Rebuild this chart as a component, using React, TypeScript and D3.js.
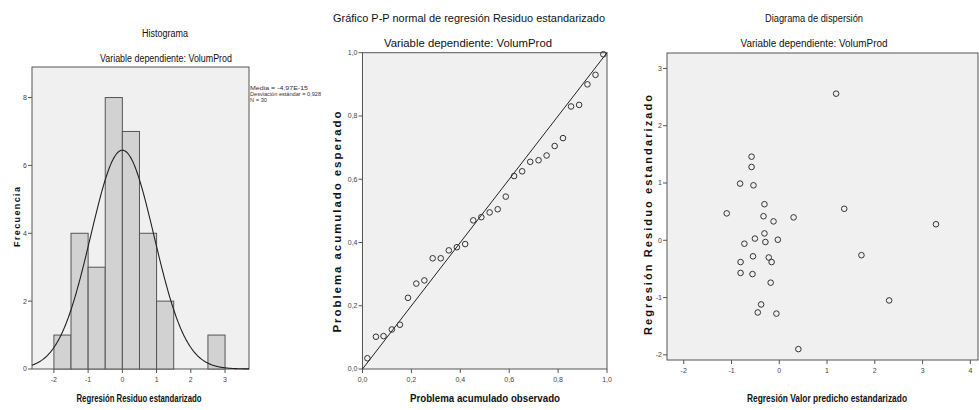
import React from "react";
import * as d3 from "d3";

// ---------- Data ----------
const histBinStarts = [-2, -1.5, -1, -0.5, 0, 0.5, 1, 1.5, 2, 2.5];
const histCounts = [1, 4, 3, 8, 7, 4, 2, 0, 0, 1];
const histBinWidth = 0.5;
const histMean = -4.97e-15;
const histSd = 0.928;
const histN = 30;
const histXTicks = [-2, -1, 0, 1, 2, 3];
const histYTicks = [0, 2, 4, 6, 8];
const histStats = ["Media = -4,97E-15", "Desviación estándar = 0,928", "N = 30"];

const ppObserved = [0.02, 0.055, 0.086, 0.12, 0.153, 0.186, 0.22, 0.253, 0.287, 0.32, 0.353, 0.386, 0.42, 0.453, 0.486, 0.52, 0.553, 0.586, 0.62, 0.653, 0.686, 0.72, 0.753, 0.786, 0.82, 0.853, 0.886, 0.92, 0.953, 0.985];
const ppExpected = [0.034, 0.102, 0.104, 0.125, 0.14, 0.225, 0.27, 0.28, 0.35, 0.35, 0.375, 0.385, 0.395, 0.47, 0.48, 0.495, 0.505, 0.545, 0.61, 0.625, 0.655, 0.66, 0.675, 0.705, 0.73, 0.83, 0.835, 0.9, 0.93, 0.995];
const ppTicks = [0, 0.2, 0.4, 0.6, 0.8, 1.0];

const scPredicted = [1.19, -0.58, -0.58, -0.82, -0.54, -0.31, -1.1, -0.33, -0.12, 0.3, 1.36, 3.28, -0.31, -0.51, -0.29, -0.03, -0.73, -0.55, -0.22, -0.16, -0.81, -0.81, -0.56, 1.72, -0.18, -0.38, -0.45, -0.06, 2.3, 0.4];
const scResidual = [2.56, 1.46, 1.28, 0.99, 0.96, 0.63, 0.47, 0.42, 0.33, 0.4, 0.55, 0.28, 0.12, 0.03, -0.03, 0.01, -0.06, -0.28, -0.3, -0.38, -0.38, -0.57, -0.59, -0.26, -0.74, -1.12, -1.26, -1.28, -1.05, -1.9];
const scXTicks = [-2, -1, 0, 1, 2, 3, 4];
const scYTicks = [-2, -1, 0, 1, 2, 3];

const subtitle = "Variable dependiente: VolumProd";

// ---------- Styles ----------
const SANS = "'Liberation Sans', Arial, sans-serif";
const PLOT_BG = "#f0f0f0";
const FRAME = "#555";
const TICK_COLOR = "#444";

const fmtComma = (v: number) => d3.format(".1f")(v).replace(".", ",");

function Label(props: {
  x: number; y: number; w: number; size: number; text: string; bold?: boolean; rotate?: boolean; anchor?: string; fill?: string; adjust?: string;
}) {
  const { x, y, w, size, text, bold, rotate, anchor = "middle", fill = "#111", adjust = "spacingAndGlyphs" } = props;
  return (
    <text
      transform={rotate ? `translate(${x},${y}) rotate(-90)` : undefined}
      x={rotate ? 0 : x}
      y={rotate ? 0 : y}
      textAnchor={anchor}
      fontSize={size}
      fontWeight={bold ? "bold" : "normal"}
      fontFamily={SANS}
      fill={fill}
      textLength={w}
      lengthAdjust={adjust}
    >
      {text}
    </text>
  );
}

function Frame({ x0, x1, y0, y1 }: { x0: number; x1: number; y0: number; y1: number }) {
  return <rect x={x0} y={y0} width={x1 - x0} height={y1 - y0} fill={PLOT_BG} stroke={FRAME} strokeWidth={1} />;
}

function YTicks({ scale, ticks, x, fmt }: { scale: any; ticks: number[]; x: number; fmt: (v: number) => string }) {
  return (
    <g>
      {ticks.map((t) => (
        <g key={t}>
          <line x1={x - 4} x2={x} y1={scale(t)} y2={scale(t)} stroke={FRAME} />
          <text x={x - 5} y={scale(t)} dy="0.35em" textAnchor="end" fontSize={7} fontFamily={SANS} fill={TICK_COLOR}>
            {fmt(t)}
          </text>
        </g>
      ))}
    </g>
  );
}

function XTicks({ scale, ticks, y, fmt }: { scale: any; ticks: number[]; y: number; fmt: (v: number) => string }) {
  return (
    <g>
      {ticks.map((t) => (
        <g key={t}>
          <line x1={scale(t)} x2={scale(t)} y1={y} y2={y + 4} stroke={FRAME} />
          <text x={scale(t)} y={y + 13} textAnchor="middle" fontSize={7} fontFamily={SANS} fill={TICK_COLOR}>
            {fmt(t)}
          </text>
        </g>
      ))}
    </g>
  );
}

export default function App() {
  // Histogram
  const hx = d3.scaleLinear().domain([-2.64, 3.7]).range([32, 249]);
  const hy = d3.scaleLinear().domain([0, 8.9]).range([369, 67]);
  const curveXs = d3.range(hx.domain()[0], hx.domain()[1] + 0.001, 0.02);
  const normal = (x: number) =>
    (histN * histBinWidth) / (histSd * Math.sqrt(2 * Math.PI)) * Math.exp(-0.5 * ((x - histMean) / histSd) ** 2);
  const curvePath = d3
    .line<number>()
    .x((d) => hx(d))
    .y((d) => hy(normal(d)))(curveXs) as string;

  // P-P
  const px = d3.scaleLinear().domain([0, 1]).range([362.5, 607]);
  const py = d3.scaleLinear().domain([0, 1]).range([369, 52.7]);

  // Scatter
  const sx = d3.scaleLinear().domain([-2.35, 4.16]).range([667, 978]);
  const sy = d3.scaleLinear().domain([-2.09, 3.27]).range([360, 53]);

  const intFmt = (v: number) => String(v);

  return (
    <svg width={979} height={410} style={{ position: "absolute", left: 0, top: 0, background: "#fff" }}>
      {/* ---------- Histogram ---------- */}
      <Label x={165} y={37} w={46} size={10} text="Histograma" />
      <Label x={166} y={62} w={132} size={10} text={subtitle} />
      <Frame x0={hx.range()[0]} x1={hx.range()[1]} y0={hy.range()[1]} y1={hy.range()[0]} />
      {histBinStarts.map((b, i) =>
        histCounts[i] > 0 ? (
          <rect
            key={b}
            x={hx(b)}
            y={hy(histCounts[i])}
            width={hx(b + histBinWidth) - hx(b)}
            height={hy(0) - hy(histCounts[i])}
            fill="#d2d2d2"
            stroke={FRAME}
            strokeWidth={1}
          />
        ) : null
      )}
      <path d={curvePath} fill="none" stroke="#222" strokeWidth={1.1} />
      <YTicks scale={hy} ticks={histYTicks} x={hx.range()[0]} fmt={intFmt} />
      <XTicks scale={hx} ticks={histXTicks} y={hy.range()[0]} fmt={intFmt} />
      {histStats.map((s, i) => (
        <Label key={s} x={250} y={90 + i * 6} w={[58, 71, 17][i]} size={6} text={s} anchor="start" fill="#333" />
      ))}
      <Label x={20} y={217} w={60} size={9} text="Frecuencia" bold rotate adjust="spacing" />
      <Label x={139} y={402} w={125} size={10} text="Regresión Residuo estandarizado" bold />

      {/* ---------- P-P plot ---------- */}
      <Label x={469} y={22} w={272} size={11.5} text="Gráfico P-P normal de regresión Residuo estandarizado" />
      <Label x={468} y={47} w={168} size={11.5} text={subtitle} />
      <Frame x0={px.range()[0]} x1={px.range()[1]} y0={py.range()[1]} y1={py.range()[0]} />
      <line x1={px(0)} y1={py(0)} x2={px(1)} y2={py(1)} stroke="#222" strokeWidth={1} />
      {ppObserved.map((o, i) => (
        <circle key={i} cx={px(o)} cy={py(ppExpected[i])} r={2.8} fill="none" stroke="#333" strokeWidth={1} />
      ))}
      <YTicks scale={py} ticks={ppTicks} x={px.range()[0]} fmt={fmtComma} />
      <XTicks scale={px} ticks={ppTicks} y={py.range()[0]} fmt={fmtComma} />
      <Label x={341} y={222} w={221} size={11.5} text="Problema acumulado esperado" bold rotate adjust="spacing" />
      <Label x={485} y={402} w={150} size={11} text="Problema acumulado observado" bold />

      {/* ---------- Scatter ---------- */}
      <Label x={814} y={22} w={98} size={11} text="Diagrama de dispersión" />
      <Label x={814} y={47} w={147} size={11} text={subtitle} />
      <Frame x0={sx.range()[0]} x1={sx.range()[1]} y0={sy.range()[1]} y1={sy.range()[0]} />
      {scPredicted.map((p, i) => (
        <circle key={i} cx={sx(p)} cy={sy(scResidual[i])} r={2.8} fill="none" stroke="#333" strokeWidth={1} />
      ))}
      <YTicks scale={sy} ticks={scYTicks} x={sx.range()[0]} fmt={intFmt} />
      <XTicks scale={sx} ticks={scXTicks} y={sy.range()[0]} fmt={intFmt} />
      <Label x={652} y={215} w={240} size={11} text="Regresión Residuo estandarizado" bold rotate adjust="spacing" />
      <Label x={827} y={402} w={160} size={10.5} text="Regresión Valor predicho estandarizado" bold />
    </svg>
  );
}
